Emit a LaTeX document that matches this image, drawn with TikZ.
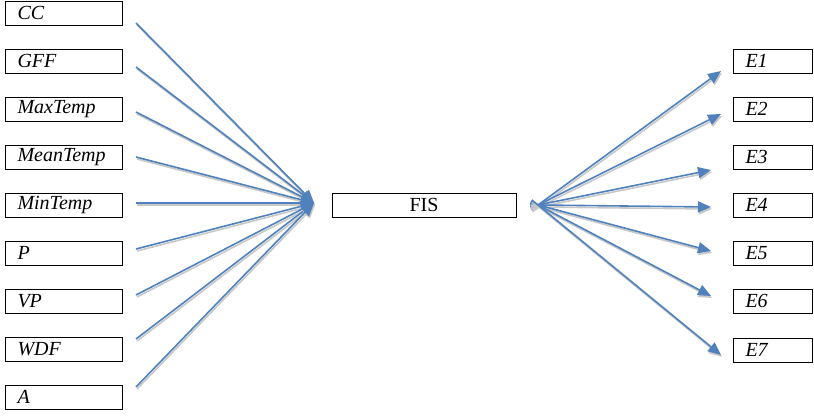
\documentclass[tikz,border=0pt]{standalone}
\usepackage{fontspec}
\setmainfont{Liberation Serif}
\usetikzlibrary{arrows.meta,calc}
\definecolor{arrowblue}{RGB}{79,129,189}
\definecolor{shadowgray}{RGB}{200,200,200}
\begin{document}
\begin{tikzpicture}[x=1pt,y=-1pt,
  box/.style={draw=black, line width=1pt, minimum height=24pt, text width=93pt,
    inner xsep=12pt, inner ysep=0pt, align=left,
    font=\fontsize{20}{22}\selectfont\itshape, anchor=west},
  rbox/.style={box, text width=55pt},
  fisbox/.style={draw=black, line width=1pt, minimum height=24pt, minimum width=184pt,
    inner sep=0pt, font=\fontsize{20}{22}\selectfont},
  conn/.style={draw=arrowblue, line width=1.6pt,
    -{Triangle[length=13pt,width=11pt]},
    preaction={draw=shadowgray, line width=1.6pt, transform canvas={shift={(1pt,-2pt)}}}}
]
\useasboundingbox (0,0) rectangle (814,416);

% left input boxes
\node[box] (cc)    at (5,13)  {CC};
\node[box] (gff)   at (5,61)  {GFF};
\node[box] (maxt)  at (5,109) {MaxTemp};
\node[box] (meant) at (5,157) {MeanTemp};
\node[box] (mint)  at (5,205) {MinTemp};
\node[box] (p)     at (5,253) {P};
\node[box] (vp)    at (5,301) {VP};
\node[box] (wdf)   at (5,349) {WDF};
\node[box] (a)     at (5,397) {A};

% FIS
\node[fisbox] (fis) at (424,205) {FIS};

% right output boxes
\node[rbox] (e1) at (733,61)  {E1};
\node[rbox] (e2) at (733,109) {E2};
\node[rbox] (e3) at (733,157) {E3};
\node[rbox] (e4) at (733,205) {E4};
\node[rbox] (e5) at (733,253) {E5};
\node[rbox] (e6) at (733,301) {E6};
\node[rbox] (e7) at (733,350) {E7};

% connector ends
\coordinate (hub) at (314,203);
\coordinate (s1) at ($(cc.east)+(13,10)$);
\coordinate (s2) at ($(gff.east)+(13,6)$);
\coordinate (s3) at ($(maxt.east)+(13,3)$);
\coordinate (s4) at ($(meant.east)+(13,0)$);
\coordinate (s5) at ($(mint.east)+(13,-2)$);
\coordinate (s6) at ($(p.east)+(13,-4)$);
\coordinate (s7) at ($(vp.east)+(13,-6)$);
\coordinate (s8) at ($(wdf.east)+(13,-10)$);
\coordinate (s9) at ($(a.east)+(13,-10)$);

\coordinate (o) at (538,205);
\coordinate (t1) at (721,71);
\coordinate (t2) at (721,114);
\coordinate (t3) at (711,170);
\coordinate (t4) at (711,207);
\coordinate (t5) at (711,251);
\coordinate (t6) at (711,296);
\coordinate (t7) at (721,355);

\foreach \s in {s1,s2,s3,s4,s5,s6,s7,s8,s9}
  \draw[conn] (\s) -- (hub);

\foreach \t in {t1,t2,t3,t4,t5,t6,t7}
  \draw[conn, shorten <=-8pt] (o) -- (\t);
\end{tikzpicture}
\end{document}
